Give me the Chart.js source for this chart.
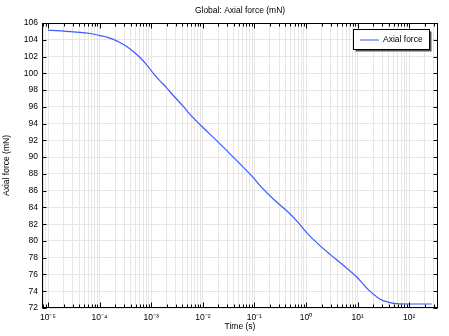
<!DOCTYPE html>
<html>
<head>
<meta charset="utf-8">
<script src="https://cdn.jsdelivr.net/npm/chart.js@4/dist/chart.umd.min.js"></script>
<style>
  body { margin: 0; background: #fff; }
</style>
</head>
<body>
<canvas id="force-chart" width="449" height="336"></canvas>
<script>
// time (s) and axial force (mN)
var times = [
  1.0e-5, 3.1e-5, 6.5e-5, 1.02e-4, 1.37e-4, 1.84e-4, 2.48e-4, 3.35e-4,
  4.5e-4, 6.07e-4, 8.18e-4, 1.10e-3, 1.48e-3, 2.0e-3, 2.68e-3, 4.19e-3,
  5.65e-3, 1.02e-2, 1.86e-2, 3.37e-2, 6.09e-2, 9.53e-2, 0.1285, 0.232,
  0.423, 0.660, 1.03, 1.71, 2.92, 5.28, 9.6, 16.1, 21.7, 27.2, 42.5, 57.3,
  104, 272
];
var axialForce = [
  105.15, 104.95, 104.75, 104.5, 104.32, 104.05, 103.68, 103.2,
  102.6, 101.88, 101.0, 100.0, 99.1, 98.25, 97.35, 96.05,
  95.1, 93.5, 91.97, 90.39, 88.8, 87.55, 86.6, 85.0,
  83.6, 82.4, 81.0, 79.65, 78.4, 77.1, 75.7, 74.2, 73.5, 73.05, 72.65, 72.52,
  72.48, 72.48
];

var decadeExponents = [-5, -4, -3, -2, -1, 0, 1, 2];
var decadeLabels = ["10⁻⁵", "10⁻⁴", "10⁻³", "10⁻²", "10⁻¹", "10⁰", "10¹", "10²"];

var timeMin = 7.65e-6;
var timeMax = 361;
var forceMin = 72;
var forceMax = 106;

var fontFamily = '"Liberation Sans", Arial, sans-serif';
var lineColor = "rgb(60, 90, 255)";

function decadeOf(v) {
  var e = Math.round(Math.log10(v));
  return Math.abs(Math.log10(v) - e) < 1e-9 ? e : null;
}

// title, legend box, inward ticks and the frame
var frameTicks = {
  id: "frameTicks",
  afterDraw: function (chart) {
    var ctx = chart.ctx;
    var a = chart.chartArea;
    var xs = chart.scales.x;
    var ys = chart.scales.y;
    var left = Math.round(a.left) + 0.5;
    var right = Math.round(a.right) - 0.5;
    var top = Math.round(a.top) + 0.5;
    var bottom = Math.round(a.bottom) - 0.5;

    ctx.save();
    ctx.strokeStyle = "#000";
    ctx.lineWidth = 1;
    ctx.beginPath();
    xs.ticks.forEach(function (t) {
      var px = Math.round(xs.getPixelForValue(t.value)) + 0.5;
      var len = decadeOf(t.value) !== null ? 5 : 3;
      ctx.moveTo(px, bottom);
      ctx.lineTo(px, bottom - len);
      ctx.moveTo(px, top);
      ctx.lineTo(px, top + len);
    });
    ys.ticks.forEach(function (t) {
      var py = Math.round(ys.getPixelForValue(t.value)) + 0.5;
      ctx.moveTo(left, py);
      ctx.lineTo(left + 4, py);
      ctx.moveTo(right, py);
      ctx.lineTo(right - 4, py);
    });
    ctx.stroke();
    ctx.strokeRect(left, top, right - left, bottom - top);

    // title
    ctx.fillStyle = "#000";
    ctx.font = "8.5px " + fontFamily;
    ctx.textAlign = "center";
    ctx.textBaseline = "middle";
    ctx.fillText("Global: Axial force (mN)", (a.left + a.right) / 2, 11);

    // legend
    var bx = 353.5, by = 29.5, bw = 76, bh = 20;
    ctx.fillStyle = "#555";
    ctx.fillRect(bx + 2, by + 2, bw, bh);
    ctx.fillStyle = "#fff";
    ctx.fillRect(bx, by, bw, bh);
    ctx.strokeStyle = "#000";
    ctx.strokeRect(bx, by, bw, bh);
    ctx.strokeStyle = lineColor;
    ctx.beginPath();
    ctx.moveTo(360, 40);
    ctx.lineTo(379, 40);
    ctx.stroke();
    ctx.fillStyle = "#000";
    ctx.textAlign = "left";
    ctx.fillText("Axial force", 383, 40);
    ctx.restore();
  }
};

var config = {
  type: "line",
  data: {
    labels: times,
    datasets: [
      {
        label: "Axial force",
        data: times.map(function (t, i) { return { x: t, y: axialForce[i] }; }),
        borderColor: lineColor,
        borderWidth: 1.2,
        pointRadius: 0,
        fill: false,
        cubicInterpolationMode: "monotone",
      },
    ],
  },
  options: {
    responsive: false,
    animation: false,
    layout: { padding: { left: 0, right: 11, top: 23, bottom: 0 } },
    plugins: {
      legend: { display: false },
      title: { display: false },
      tooltip: { enabled: false },
    },
    scales: {
      x: {
        type: "logarithmic",
        min: timeMin,
        max: timeMax,
        afterFit: function (s) { s.height = 28; },
        afterBuildTicks: function (s) {
          var ticks = [];
          for (var e = -6; e <= 2; e++) {
            for (var m = 1; m <= 9; m++) {
              var v = m * Math.pow(10, e);
              if (v >= timeMin && v <= timeMax) ticks.push({ value: v });
            }
          }
          s.ticks = ticks;
        },
        grid: { color: "#e6e6e6", drawTicks: false },
        border: { display: false },
        ticks: {
          autoSkip: false,
          maxRotation: 0,
          padding: 5,
          color: "#000",
          font: { family: fontFamily, size: 8.5 },
          callback: function (v) {
            var e = decadeOf(v);
            var k = decadeExponents.indexOf(e);
            return k >= 0 ? decadeLabels[k] : "";
          },
        },
        title: {
          display: true,
          text: "Time (s)",
          color: "#000",
          font: { family: fontFamily, size: 8.5 },
          padding: { top: 0, bottom: 4 },
        },
      },
      y: {
        min: forceMin,
        max: forceMax,
        afterFit: function (s) { s.width = 42; },
        grid: { color: "#e6e6e6", drawTicks: false },
        border: { display: false },
        ticks: {
          stepSize: 2,
          padding: 4,
          color: "#000",
          font: { family: fontFamily, size: 8.5 },
        },
        title: {
          display: true,
          text: "Axial force (mN)",
          color: "#000",
          font: { family: fontFamily, size: 8.5 },
          padding: { top: 2, bottom: 0 },
        },
      },
    },
  },
  plugins: [frameTicks],
};

var ctxOne = document.getElementById("force-chart").getContext("2d");
new Chart(ctxOne, config);
</script>
</body>
</html>
